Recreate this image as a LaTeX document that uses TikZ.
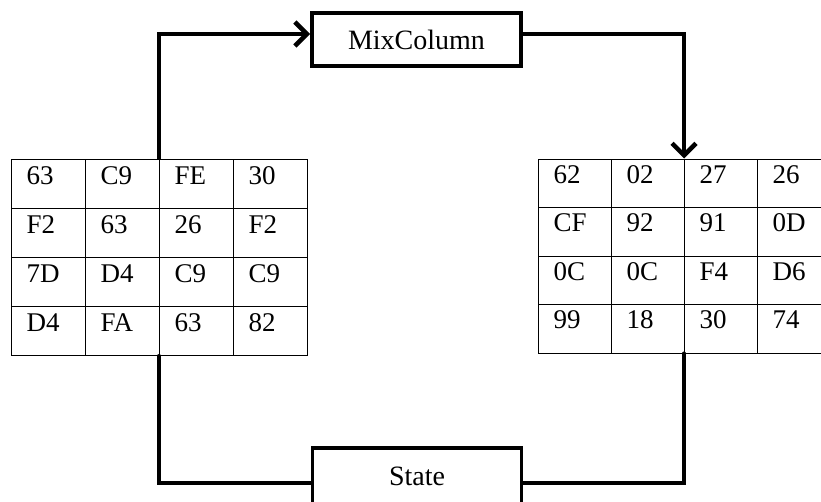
\documentclass[tikz,border=0pt]{standalone}
\usepackage{fontspec}
\setmainfont{Liberation Serif}
\usetikzlibrary{arrows.meta}
\begin{document}
\begin{tikzpicture}[x=1pt,y=-1pt,
  cellbase/.style={draw, line width=1.2pt, anchor=north west, align=left,
    text height=8pt, text depth=8pt, inner sep=0pt, font=\fontsize{27}{27}\selectfont},
  cellL/.style={cellbase, minimum width=74pt, minimum height=49pt, text width=44pt},
  cellR/.style={cellbase, minimum width=73pt, minimum height=48.5pt, text width=43pt},
  opbox/.style={draw, line width=3.8pt, minimum width=209pt, inner sep=0pt,
    font=\fontsize{28}{28}\selectfont},
  conn/.style={line width=4.5pt},
  tip/.style={-{Straight Barb[length=12pt,width=24pt]}}
]
\useasboundingbox (0,0) rectangle (821,501);
\clip (0,0) rectangle (821,501);

% left state matrix
\foreach \r/\row in {1/{63,C9,FE,30},2/{F2,63,26,F2},3/{7D,D4,C9,C9},4/{D4,FA,63,82}}{
  \foreach \t [count=\c] in \row {
    \node[cellL] (L\r\c) at ({11+74*(\c-1)},{159+49*(\r-1)}) {\t};
  }
}
% right state matrix
\foreach \r/\row in {1/{62,02,27,26},2/{CF,92,91,0D},3/{0C,0C,F4,D6},4/{99,18,30,74}}{
  \foreach \t [count=\c] in \row {
    \node[cellR] (R\r\c) at ({538+73*(\c-1)},{158.5+48.5*(\r-1)}) {\t};
  }
}

% operation boxes
\node[opbox, minimum height=53pt] (mix) at (416.5,39.5) {MixColumn};
\node[opbox, minimum height=70pt, text height=20pt, text depth=16pt] (state) at (417,483) {State};

% connectors
\draw[conn, tip] (L13.north west) |- ([yshift=5.5pt]mix.west);
\draw[conn, tip] ([yshift=5.5pt]mix.east) -| (R13.north west);
\draw[conn, line cap=round] (L43.south west) |- (state.west);
\draw[conn, line cap=round] (R43.south west) |- (state.east);
\end{tikzpicture}
\end{document}
